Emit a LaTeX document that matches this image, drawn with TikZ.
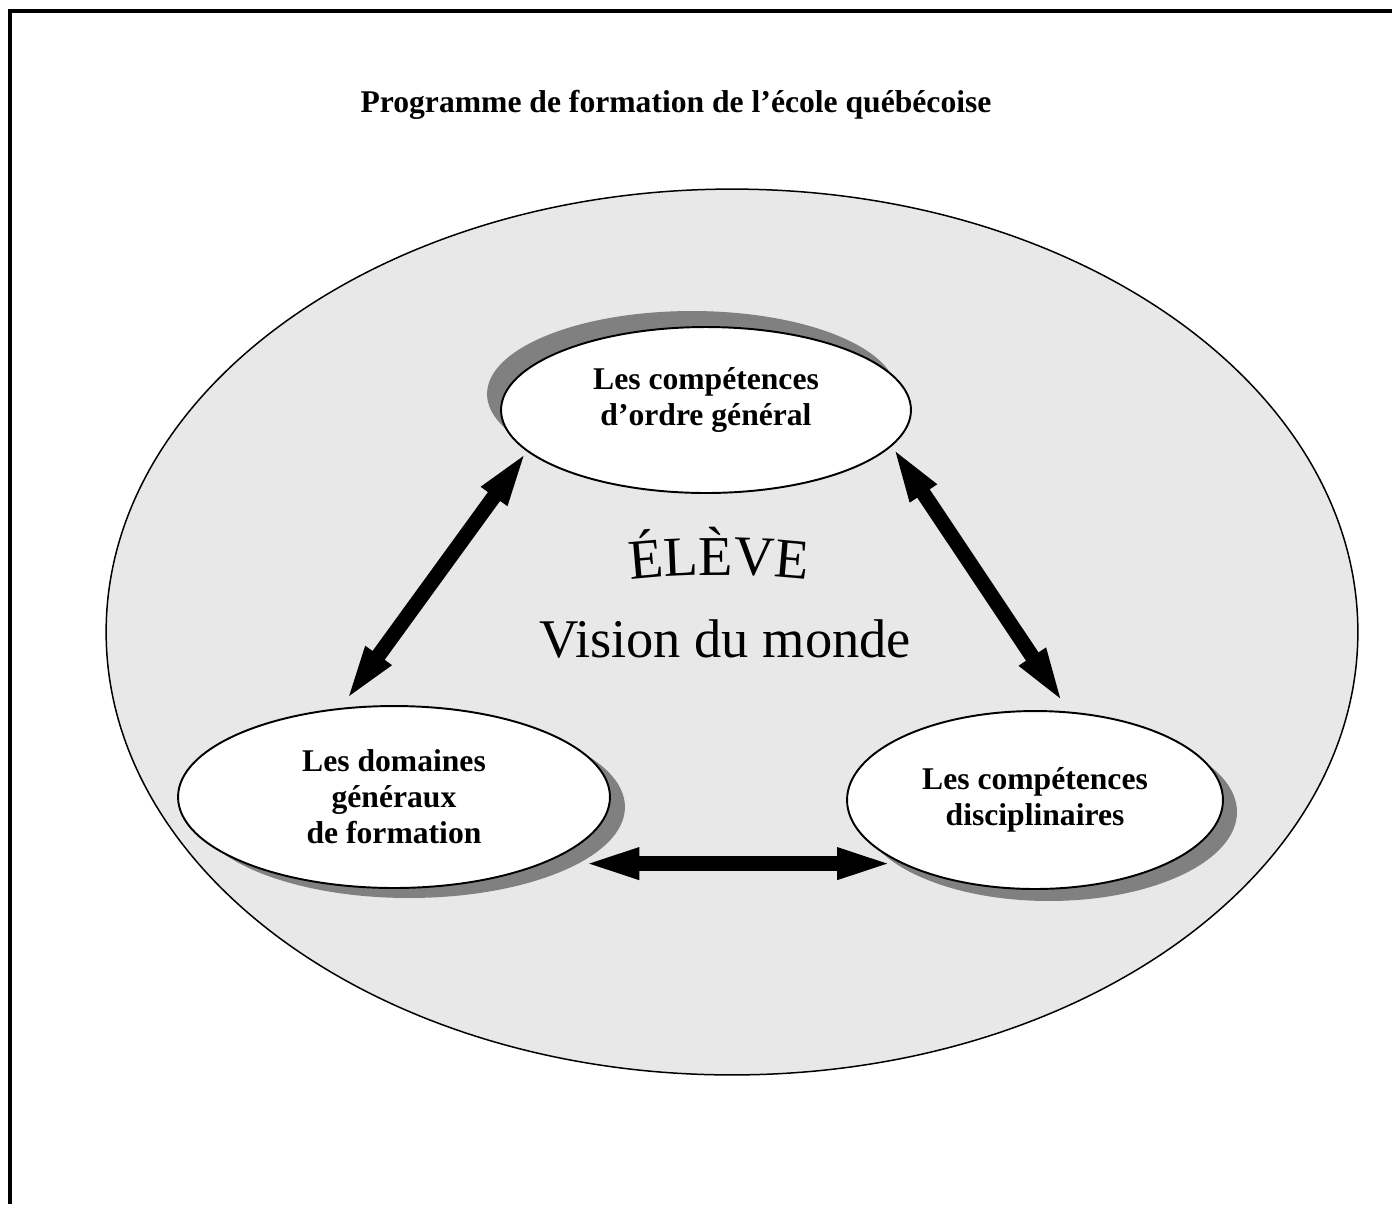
\documentclass[tikz,border=0pt]{standalone}
\usepackage{fontspec}
\setmainfont{Liberation Serif}
\usetikzlibrary{arrows.meta,shadows,shapes.geometric,decorations.text}
\definecolor{fieldgray}{gray}{0.91}
\definecolor{shadowgray}{gray}{0.5}
\tikzset{
    pfeq/.style={x=0.02cm, y=-0.02cm, font=\fontsize{18}{20.5}\selectfont\bfseries},
    frame/.style={line width=1.9pt},
    field/.style={ellipse, draw, fill=fieldgray, line width=0.85pt,
                     minimum width=25.04cm, minimum height=17.72cm},
    comp/.style={ellipse, draw, fill=white, line width=1.1pt, inner sep=0pt, align=center},
    twoway/.style={{Triangle[length=1.22cm,width=0.54cm]}-{Triangle[length=1.22cm,width=0.54cm]},
                     line width=0.3cm},
    }

\begin{document}
\begin{tikzpicture}[pfeq]
    \useasboundingbox (0,0) rectangle (1392,1204);
    \draw[frame] (10,1204) -- (10,11) -- (1392,11);

    \node[anchor=base] (title) at (676,112) {Programme de formation de l’école québécoise};
    \node[field] (world) at (732,632) {};

    \node[comp, minimum width=8.2cm, minimum height=3.32cm, text depth=15pt,
          drop shadow={shadow xshift=-0.28cm, shadow yshift=0.32cm, fill=shadowgray, opacity=1}]
          (general) at (706,410) {Les compétences\\d’ordre général};
    \node[comp, minimum width=8.64cm, minimum height=3.64cm,
          drop shadow={shadow xshift=0.3cm, shadow yshift=-0.2cm, fill=shadowgray, opacity=1}]
          (domains) at (394,797) {Les domaines\\généraux\\de formation};
    \node[comp, minimum width=7.52cm, minimum height=3.56cm,
          drop shadow={shadow xshift=0.28cm, shadow yshift=-0.24cm, fill=shadowgray, opacity=1}]
          (disc) at (1035,800) {Les compétences\\disciplinaires};

    % centre
    \path[decorate, decoration={text along path, text align=center,
          text={|\fontsize{32}{38}\selectfont\mdseries|ÉLÈVE}}]
          (600,584) .. controls (670,572) and (768,572) .. (838,584);
    \node[anchor=base, font=\fontsize{31}{36}\selectfont] (vision) at (725,657) {Vision du monde};

    \draw[twoway, shorten <=0.078cm, shorten >=-0.104cm] (domains.121.24) -- (general.193.6);
    \draw[twoway, shorten <=-0.082cm, shorten >=0.101cm] (general.349.9) -- (disc.69.84);
    \draw[twoway, shorten <=0.696cm, shorten >=-0.02cm] (domains.336.74) -- (domains.336.74 -| disc.204.68);
\end{tikzpicture}
\end{document}
